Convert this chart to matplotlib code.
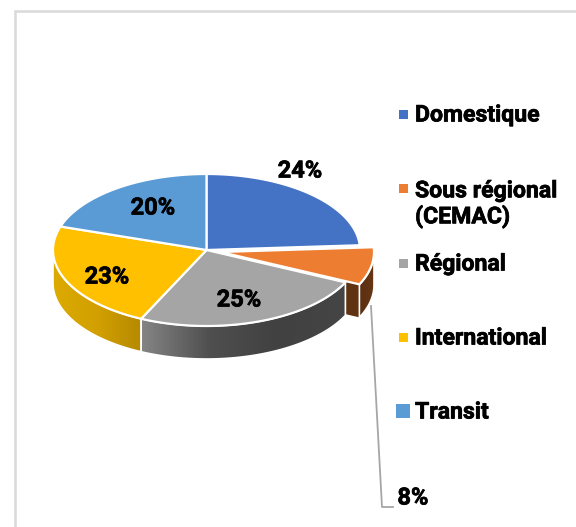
import numpy as np
import matplotlib
matplotlib.use("Agg")
import matplotlib.pyplot as plt
import matplotlib.patheffects as pe
from matplotlib.colors import LinearSegmentedColormap
from matplotlib.patches import Polygon, Rectangle

categories = ["Domestique", "Sous régional\n(CEMAC)", "Régional", "International", "Transit"]
values = [24, 8, 25, 23, 20]
colors = ["#4472c4", "#ed7d31", "#a5a5a5", "#ffc000", "#5b9bd5"]

CX, CY, RX, RY, DEPTH = 206.5, 250, 153.5, 76, 33
EXPLODE = [(0, 0), (14, 2), (0, 0), (0, 0), (0, 0)]

plt.rcParams["font.family"] = ["Roboto", "Liberation Sans", "DejaVu Sans"]
HEAVY = [pe.withStroke(linewidth=0.5, foreground="black")]


def rim(start, end, dx=0, dy=0, down=0):
    # angles are degrees clockwise from the top of the pie
    t = np.radians(np.linspace(start, end, 120))
    return np.column_stack([CX + dx + RX * np.sin(t), CY + dy - RY * np.cos(t) + down])


def wall(ax, start, end, dx, dy, stops, z):
    top = rim(start, end, dx, dy)
    bottom = rim(start, end, dx, dy, DEPTH)
    poly = Polygon(np.vstack([top, bottom[::-1]]), closed=True, fc="none", ec="none", zorder=z)
    ax.add_patch(poly)
    cmap = LinearSegmentedColormap.from_list("side", stops)
    x0, x1 = sorted([top[:, 0].min(), top[:, 0].max()])
    y0, y1 = np.vstack([top, bottom])[:, 1].min(), np.vstack([top, bottom])[:, 1].max()
    im = ax.imshow(np.linspace(0, 1, 256)[None, :], cmap=cmap, extent=[x0, x1, y1, y0],
                   aspect="auto", zorder=z, interpolation="bilinear")
    im.set_clip_path(poly)
    ax.add_patch(Polygon(np.vstack([top, bottom[::-1]]), closed=True, fc="none",
                         ec="white", lw=1.2, zorder=z + 0.1))


fig = plt.figure(figsize=(5.76, 5.27), dpi=100)
ax = fig.add_axes([0, 0, 1, 1])

# chart frame, cut by the edge of the picture
ax.plot([15, 15, 576], [527, 11, 11], color="#d9d9d9", lw=1.8, solid_joinstyle="miter", zorder=1)

edges = np.cumsum([0] + values) * 3.6

# side walls, back to front
dx, dy = EXPLODE[1]
a0, a1 = edges[1], edges[2]
apex = np.array([CX + dx, CY + dy])
end = rim(a1, a1, dx, dy)[0]
ax.add_patch(Polygon([apex, end, end + [0, DEPTH], apex + [0, DEPTH]], closed=True,
                     fc="#5f3212", ec="none", zorder=2))
wall(ax, 90, a1, dx, dy, ["#5a2f11", "#673614"], 2.2)
wall(ax, edges[2], edges[3], 0, 0, ["#858585", "#4f4f4f", "#414141", "#454545"], 3)
wall(ax, edges[3], 270, 0, 0, ["#dcaa00", "#d2a000", "#b58900"], 3)

# top surfaces
for i, c in enumerate(colors):
    dx, dy = EXPLODE[i]
    pts = np.vstack([[CX + dx, CY + dy], rim(edges[i], edges[i + 1], dx, dy)])
    ax.add_patch(Polygon(pts, closed=True, fc=c, ec="white", lw=1.6,
                         joinstyle="round", zorder=5))

# percent labels
label_xy = [(300, 171), (413, 498), (239, 300), (107, 277), (153, 208)]
for v, (x, y) in zip(values, label_xy):
    ax.text(x, y, f"{v}%", ha="center", va="center", fontsize=17, fontweight="bold",
            color="black", zorder=7, path_effects=HEAVY)

# leader line of the small slice
ax.plot([371, 382, 393], [306, 507, 507], color="#a6a6a6", lw=1.3, zorder=4)

# legend
legend_y = [114, 188, 263, 337, 411]
text_y = [115, 204, 264, 338, 412]
marker_size = [9, 9, 9, 9, 14]
for name, c, my, ty, s in zip(categories, colors, legend_y, text_y, marker_size):
    ax.add_patch(Rectangle((403 - s / 2, my - s / 2), s, s, fc=c, ec="none", zorder=6))
    ax.text(415, ty, name, ha="left", va="center", fontsize=16.6, fontweight="bold",
            color="black", linespacing=1.1, zorder=7, path_effects=HEAVY)

ax.set_xlim(0, 576)
ax.set_ylim(527, 0)
ax.axis("off")

fig.savefig("out.png", dpi=100)
